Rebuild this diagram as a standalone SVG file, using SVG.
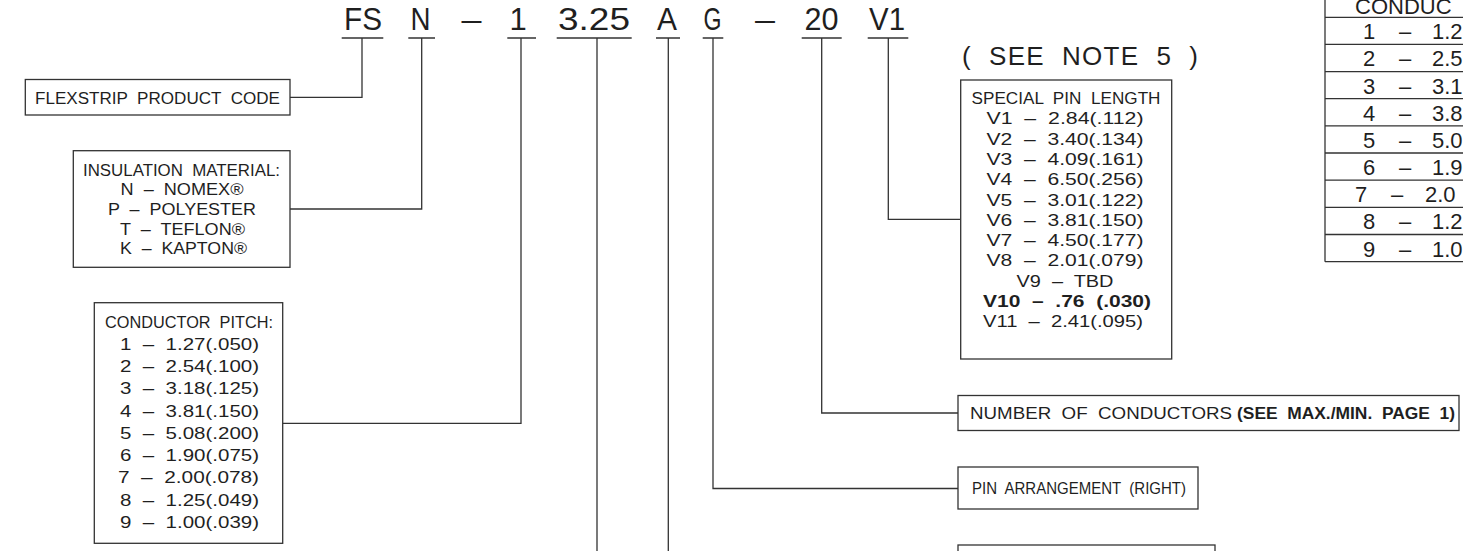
<svg xmlns="http://www.w3.org/2000/svg" width="1463" height="551" viewBox="0 0 1463 551">
<style>
.t{font-family:"Liberation Sans",Arial,sans-serif;fill:#1f1f1f;white-space:pre}
.code{font-size:31px;text-anchor:middle}
.bx{font-size:16px}
.c{text-anchor:middle}
.b{font-weight:bold}
.tb{font-size:22px}
.box{fill:#fff;stroke:#333;stroke-width:1.3}
.ln{fill:none;stroke:#333;stroke-width:1.3}
</style>
<rect width="1463" height="551" fill="#fff"/>

<g id="code">
<text class="t code" x="363" y="30" textLength="38" lengthAdjust="spacingAndGlyphs">FS</text>
<text class="t code" x="420.5" y="30" textLength="20" lengthAdjust="spacingAndGlyphs">N</text>
<text class="t code" x="471.5" y="30" textLength="20" lengthAdjust="spacingAndGlyphs">–</text>
<text class="t code" x="518" y="30">1</text>
<text class="t code" x="594" y="30" textLength="72" lengthAdjust="spacingAndGlyphs">3.25</text>
<text class="t code" x="667" y="30" textLength="20" lengthAdjust="spacingAndGlyphs">A</text>
<text class="t code" x="712.5" y="30" textLength="18" lengthAdjust="spacingAndGlyphs">G</text>
<text class="t code" x="765" y="30" textLength="20" lengthAdjust="spacingAndGlyphs">–</text>
<text class="t code" x="821.5" y="30" textLength="34" lengthAdjust="spacingAndGlyphs">20</text>
<text class="t code" x="887" y="30" textLength="36" lengthAdjust="spacingAndGlyphs">V1</text>
</g>

<g id="connectors">
<path class="ln" d="M341.7 38H383.3M362 38V97.3H290"/>
<path class="ln" d="M408.3 38H435M421.7 38V209H290"/>
<path class="ln" d="M507.3 38H536M521 38V423.3H282.7"/>
<path class="ln" d="M556.7 38H631.7M597 38V551"/>
<path class="ln" d="M656 38H680M668.3 38V551"/>
<path class="ln" d="M702.7 38H723.3M713 38V488.5H958"/>
<path class="ln" d="M801.7 38H841.7M821.7 38V413H958"/>
<path class="ln" d="M867.7 38H908.3M888.3 38V219.3H960"/>
</g>

<g id="product-code">
<rect class="box" x="25.3" y="79.5" width="264.7" height="35.5"/>
<text class="t bx c" x="157.5" y="104" textLength="245" lengthAdjust="spacingAndGlyphs">FLEXSTRIP  PRODUCT  CODE</text>
</g>

<g id="insulation">
<rect class="box" x="73.3" y="150.7" width="216.7" height="116.6"/>
<text class="t bx c" x="181.5" y="175.5" textLength="197" lengthAdjust="spacingAndGlyphs">INSULATION  MATERIAL:</text>
<text class="t bx c" x="182" y="195.2" textLength="123" lengthAdjust="spacingAndGlyphs">N  –  NOMEX®</text>
<text class="t bx c" x="182" y="214.9" textLength="148" lengthAdjust="spacingAndGlyphs">P  –  POLYESTER</text>
<text class="t bx c" x="182.5" y="234.6" textLength="125" lengthAdjust="spacingAndGlyphs">T  –  TEFLON®</text>
<text class="t bx c" x="183.5" y="254.3" textLength="127" lengthAdjust="spacingAndGlyphs">K  –  KAPTON®</text>
</g>

<g id="pitch">
<rect class="box" x="94.3" y="302.7" width="188.4" height="240.6"/>
<text class="t bx c" x="189" y="328.3" textLength="168" lengthAdjust="spacingAndGlyphs">CONDUCTOR  PITCH:</text>
<text class="t bx" x="120" y="349.6" textLength="139" lengthAdjust="spacingAndGlyphs">1  –  1.27(.050)</text>
<text class="t bx" x="120" y="371.9" textLength="139" lengthAdjust="spacingAndGlyphs">2  –  2.54(.100)</text>
<text class="t bx" x="120" y="394.2" textLength="139" lengthAdjust="spacingAndGlyphs">3  –  3.18(.125)</text>
<text class="t bx" x="120" y="416.5" textLength="139" lengthAdjust="spacingAndGlyphs">4  –  3.81(.150)</text>
<text class="t bx" x="120" y="438.8" textLength="139" lengthAdjust="spacingAndGlyphs">5  –  5.08(.200)</text>
<text class="t bx" x="120" y="461.1" textLength="139" lengthAdjust="spacingAndGlyphs">6  –  1.90(.075)</text>
<text class="t bx" x="118" y="483.4" textLength="141" lengthAdjust="spacingAndGlyphs">7  –  2.00(.078)</text>
<text class="t bx" x="120" y="505.7" textLength="139" lengthAdjust="spacingAndGlyphs">8  –  1.25(.049)</text>
<text class="t bx" x="120" y="528" textLength="139" lengthAdjust="spacingAndGlyphs">9  –  1.00(.039)</text>
</g>

<g id="note">
<text class="t" x="962" y="65" font-size="26" textLength="236">(  SEE  NOTE  5  )</text>
</g>

<g id="pin-length">
<rect class="box" x="960.7" y="80" width="211" height="279"/>
<text class="t bx c" x="1066" y="104" textLength="189" lengthAdjust="spacingAndGlyphs">SPECIAL  PIN  LENGTH</text>
<text class="t bx c" x="1065" y="124.3" textLength="157" lengthAdjust="spacingAndGlyphs">V1  –  2.84(.112)</text>
<text class="t bx c" x="1065" y="144.6" textLength="157" lengthAdjust="spacingAndGlyphs">V2  –  3.40(.134)</text>
<text class="t bx c" x="1065" y="164.9" textLength="157" lengthAdjust="spacingAndGlyphs">V3  –  4.09(.161)</text>
<text class="t bx c" x="1065" y="185.2" textLength="157" lengthAdjust="spacingAndGlyphs">V4  –  6.50(.256)</text>
<text class="t bx c" x="1065" y="205.5" textLength="157" lengthAdjust="spacingAndGlyphs">V5  –  3.01(.122)</text>
<text class="t bx c" x="1065" y="225.8" textLength="157" lengthAdjust="spacingAndGlyphs">V6  –  3.81(.150)</text>
<text class="t bx c" x="1065" y="246.1" textLength="157" lengthAdjust="spacingAndGlyphs">V7  –  4.50(.177)</text>
<text class="t bx c" x="1065" y="266.4" textLength="157" lengthAdjust="spacingAndGlyphs">V8  –  2.01(.079)</text>
<text class="t bx c" x="1065" y="286.7" textLength="97" lengthAdjust="spacingAndGlyphs">V9  –  TBD</text>
<text class="t bx c b" x="1067" y="307" font-size="17" textLength="168" lengthAdjust="spacingAndGlyphs">V10  –  .76  (.030)</text>
<text class="t bx c" x="1063" y="327.3" textLength="160" lengthAdjust="spacingAndGlyphs">V11  –  2.41(.095)</text>
</g>

<g id="num-conductors">
<rect class="box" x="958" y="395.5" width="501" height="35"/>
<text class="t bx" x="970" y="419" textLength="262" lengthAdjust="spacingAndGlyphs">NUMBER  OF  CONDUCTORS</text>
<text class="t bx b" x="1237" y="419" font-size="17" textLength="218" lengthAdjust="spacingAndGlyphs">(SEE  MAX./MIN.  PAGE  1)</text>
</g>

<g id="pin-arrangement">
<rect class="box" x="958" y="467" width="240" height="42"/>
<text class="t bx" x="972" y="494" textLength="214" lengthAdjust="spacingAndGlyphs">PIN  ARRANGEMENT  (RIGHT)</text>
</g>

<g id="bottom-box">
<rect class="box" x="958" y="545" width="257" height="20"/>
</g>

<g id="pitch-table">
<path class="ln" d="M1325 0V261.7"/>
<path class="ln" d="M1325 17.3H1463M1325 44.4H1463M1325 71.6H1463M1325 98.7H1463M1325 125.9H1463M1325 153H1463M1325 180.2H1463M1325 207.3H1463M1325 234.5H1463M1325 261.7H1463"/>
<text class="t tb" x="1355" y="14">CONDUC</text>
<g class="t tb">
<text x="1369" y="39.3" text-anchor="middle">1</text><text x="1405" y="39.3" text-anchor="middle">–</text><text x="1432" y="39.3">1.2</text>
<text x="1369" y="66.4" text-anchor="middle">2</text><text x="1405" y="66.4" text-anchor="middle">–</text><text x="1432" y="66.4">2.5</text>
<text x="1369" y="93.6" text-anchor="middle">3</text><text x="1405" y="93.6" text-anchor="middle">–</text><text x="1432" y="93.6">3.1</text>
<text x="1369" y="120.7" text-anchor="middle">4</text><text x="1405" y="120.7" text-anchor="middle">–</text><text x="1432" y="120.7">3.8</text>
<text x="1369" y="147.9" text-anchor="middle">5</text><text x="1405" y="147.9" text-anchor="middle">–</text><text x="1432" y="147.9">5.0</text>
<text x="1369" y="175" text-anchor="middle">6</text><text x="1405" y="175" text-anchor="middle">–</text><text x="1432" y="175">1.9</text>
<text x="1361" y="202.2" text-anchor="middle">7</text><text x="1397" y="202.2" text-anchor="middle">–</text><text x="1425" y="202.2">2.0</text>
<text x="1369" y="229.3" text-anchor="middle">8</text><text x="1405" y="229.3" text-anchor="middle">–</text><text x="1432" y="229.3">1.2</text>
<text x="1369" y="256.5" text-anchor="middle">9</text><text x="1405" y="256.5" text-anchor="middle">–</text><text x="1432" y="256.5">1.0</text>
</g>
</g>
</svg>
